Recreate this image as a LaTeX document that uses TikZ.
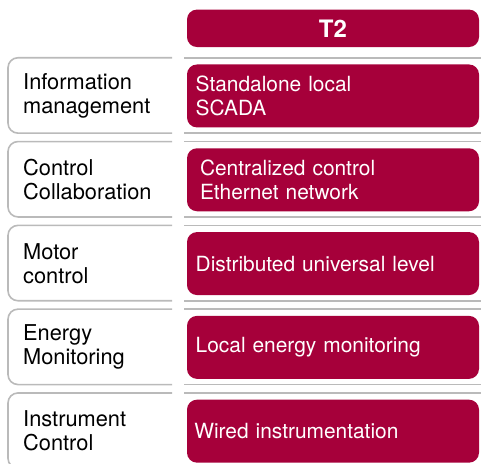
\documentclass[tikz,border=0pt]{standalone}
\usepackage{fontspec}
\setmainfont{TeX Gyre Heros}
\usetikzlibrary{positioning}
\definecolor{tred}{HTML}{A6003A}
\definecolor{tgrey}{HTML}{BABABA}

\begin{document}
\begin{tikzpicture}[x=1pt,y=-1pt,node distance=20.4pt,
                    cell/.style={fill=tred,text=white,rounded corners=10pt,
                      minimum width=292pt,minimum height=63pt,inner xsep=8.7pt,
                      text width=274.6pt,align=left,
                      font=\fontsize{20.9}{24}\selectfont},
                    lbl/.style={anchor=west,inner sep=0pt,align=left,
                      font=\fontsize{21.8}{24}\selectfont},
                    frame/.style={draw=tgrey,line width=1.6pt,rounded corners=10pt}]

  \useasboundingbox (0,0) rectangle (481,463);

  \node[cell,minimum height=37.5pt,align=center,
        font=\bfseries\fontsize{24}{24}\selectfont] (hdr) at (333,28.3) {T2};

  \node[cell] (r1) [below=17pt of hdr] {Standalone local\\SCADA};
  \node[cell,inner xsep=13pt,text width=266pt] (r2) [below=of r1]
        {Centralized control\\Ethernet network};
  \node[cell] (r3) [below=of r2] {Distributed universal level};
  \node[cell] (r4) [below=of r3] {Local energy monitoring};
  \node[cell,inner xsep=7.3pt,text width=277.4pt] (r5) [below=of r4]
        {Wired instrumentation};

  \node[lbl] (l1) at (23,0 |- r1) {Information\\management};
  \node[lbl] (l2) at (23,0 |- r2) {Control\\Collaboration};
  \node[lbl] (l3) at (23,0 |- r3) {Motor\\control};
  \node[lbl] (l4) at (23,0 |- r4) {Energy\\Monitoring};
  \node[lbl] (l5) at (23,0 |- r5) {Instrument\\Control};

  % grey row frames, cut open between label and cell
  \foreach \i in {1,...,5}{
    \coordinate (t\i) at ([yshift=6.5pt]r\i.north);
    \coordinate (b\i) at ([yshift=-5.5pt]r\i.south);
    \draw[frame] (172,0 |- t\i) -- (8,0 |- t\i) -- (8,0 |- b\i) -- (172,0 |- b\i);
    \draw[frame] (184,0 |- t\i) -- (481,0 |- t\i) (184,0 |- b\i) -- (481,0 |- b\i);
  }

\end{tikzpicture}
\end{document}
